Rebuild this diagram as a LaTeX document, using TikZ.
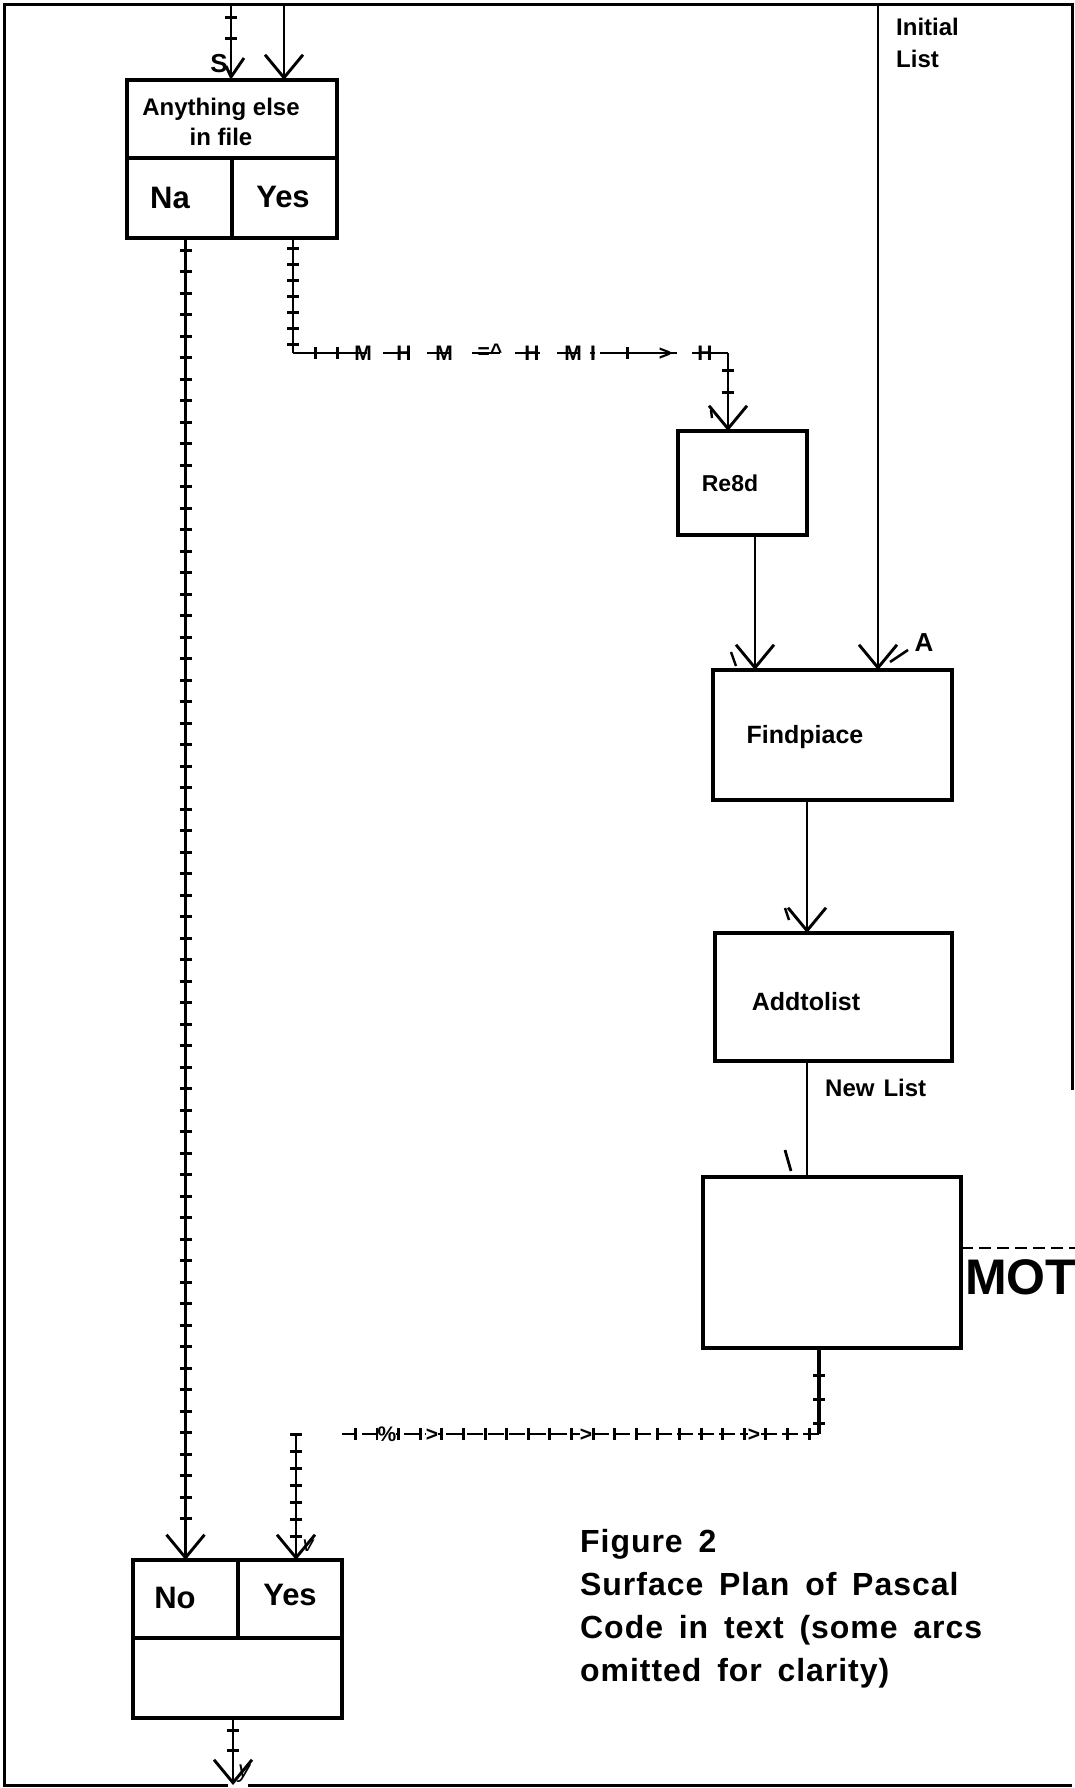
\documentclass[tikz,border=0pt]{standalone}
\usepackage{fontspec}
\setmainfont{Liberation Sans}
\newfontfamily\capfont[LetterSpace=3,WordSpace=1.6]{Liberation Sans}
\usetikzlibrary{arrows.meta,decorations.markings}
\begin{document}
\begin{tikzpicture}[x=1pt,y=-1pt,
  box/.style={draw,line width=3.4pt,rectangle,inner sep=0pt,outer sep=0pt},
  conn/.style={line width=2.9pt},
  vtip/.style={-{Straight Barb[length=23pt,width=38pt,line width=2.9pt]}},
  txt/.style={inner sep=0pt,font=\bfseries\fontsize{#1}{#1}\selectfont},
  txt/.default=24,
  tickbar/.style={-,line width=3pt},
  ticks/.style n args={3}{postaction={decorate},decoration={markings,
     mark=between positions #1 and #2 step #3 with {\draw[tickbar] (0pt,-6pt)--(0pt,6pt);}}},
  glyph/.style={inner sep=0pt,font=\bfseries\fontsize{21}{21}\selectfont}
]
\useasboundingbox (0,0) rectangle (1075,1788);
% frame
\draw[line width=3pt] (1072,1090) -- (1072,4) -- (4,4) -- (4,1785) -- (228,1785);
\draw[line width=3pt] (248,1785) -- (1072,1785);

% top decision box
\node[box,minimum width=210pt,minimum height=78pt] (q1top) at (232,119) {};
\node[box,minimum width=105pt,minimum height=80pt] (q1no) at (179.5,198) {};
\node[box,minimum width=105pt,minimum height=80pt] (q1yes) at (284.5,198) {};
\node[txt=24,align=center] (q1t) at (221,122) {Anything else\\[6pt]in file};
\node[txt=31] (q1nt) at (170,198) {Na};
\node[txt=31] (q1yt) at (283,197) {Yes};

% process boxes
\node[box,minimum width=129pt,minimum height=104pt] (re8d) at (742.5,483) {};
\node[txt=23] (re8dt) at (730,483) {Re8d};
\node[box,minimum width=239pt,minimum height=130pt] (findp) at (832.5,735) {};
\node[txt=25] (findpt) at (805,737) {Findpiace};
\node[box,minimum width=237pt,minimum height=128pt] (addto) at (833.5,997) {};
\node[txt=25] (addtot) at (806,1002) {Addtolist};
\node[box,minimum width=258pt,minimum height=171pt] (mot) at (832,1262.5) {};

% bottom decision box
\node[box,minimum width=105pt,minimum height=78pt] (bno) at (185.5,1599) {};
\node[box,minimum width=104pt,minimum height=78pt] (byes) at (290,1599) {};
\node[box,minimum width=209pt,minimum height=80pt] (bbody) at (237.5,1678) {};
\node[txt=31] (bnot) at (175,1598) {No};
\node[txt=31] (byest) at (290,1595) {Yes};

% labels
\node[txt=24,align=left,anchor=north west] (initl) at (896,18) {Initial\\[8pt]List};
\node[txt=24,anchor=west] (newl) at (825,1088) {New\hspace{9pt}List};
\node[txt=50,anchor=west] (motl) at (965,1277) {MOT};
\node[inner sep=0pt,font=\bfseries\fontsize{26}{26}\selectfont] (alab) at (924,643) {A};
\node[inner sep=0pt,font=\bfseries\fontsize{26}{26}\selectfont] (slab) at (219,64) {S};
\node[inner sep=0pt,font=\itshape\fontsize{22}{22}\selectfont] (vlab) at (308,1546) {v};
\node[inner sep=0pt,font=\itshape\fontsize{24}{24}\selectfont] (ylab) at (244,1774) {y};
\node[inner sep=0pt,anchor=north west,align=left,
      font=\capfont\bfseries\fontsize{32}{43}\selectfont] (cap) at (580,1529)
  {Figure 2\\
   Surface Plan of Pascal\\
   Code in text (some arcs\\
   omitted for clarity)};

% connector coordinates
\coordinate (tlx) at (231,4);
\coordinate (trx) at (284,4);
\coordinate (ilx) at (878,4);
\coordinate (ycorner) at (293,353);
\coordinate (rin) at (728,353);
\coordinate (rfx) at (755,600);
\coordinate (fax) at (807,860);
\coordinate (mc) at (819,1434);
\coordinate (mend) at (342,1434);
\coordinate (yv) at (296,1434);
\coordinate (ex) at (233,1785);
\coordinate (mdash) at (1075,1248);

% incoming at top
\draw[conn,ticks={13pt}{40pt}{21pt}] (tlx) -- (tlx |- q1top.north);
\draw[conn] (226,66) -- (231,77) -- (244,58);
\draw[conn,vtip] (trx) -- (trx |- q1top.north);
\draw[conn,vtip] (ilx) -- (ilx |- findp.north);

% No branch (long ticked line)
\draw[conn,vtip,ticks={12pt}{-28pt}{21.5pt}] (bno.north |- q1no.south) -- (bno.north);

% Yes branch to Re8d
\draw[conn,ticks={10pt}{-8pt}{16pt}] (ycorner |- q1yes.south) -- (ycorner);
\draw[conn,dash pattern=on 74pt off 16pt on 27pt off 17pt on 23pt off 22pt on 28pt off 15pt on 25pt off 17pt on 23pt off 10pt on 5pt off 5pt on 77pt off 15pt on 40pt,
  postaction={decorate},decoration={markings,
   mark=at position 22pt with {\draw[tickbar] (0pt,-6pt)--(0pt,6pt);},
   mark=at position 44pt with {\draw[tickbar] (0pt,-6pt)--(0pt,6pt);},
   mark=at position 334pt with {\draw[tickbar] (0pt,-6pt)--(0pt,6pt);}}]
  (ycorner) -- (rin);
\draw[conn,vtip,ticks={17pt}{40pt}{22pt}] (rin) -- (rin |- re8d.north);
\node[glyph] (g1) at (363,353) {M};
\node[glyph] (g2) at (404,353) {H};
\node[glyph] (g3) at (444,353) {M};
\node[glyph] (g4) at (490,351) {=\textasciicircum};
\node[glyph] (g5) at (532,353) {H};
\node[glyph] (g6) at (573,353) {M};
\node[glyph] (g7) at (593,353) {I};
\node[glyph] (g8) at (665,354) {>};
\node[glyph] (g9) at (705,353) {H};

% main chain
\draw[conn,vtip] (rfx |- re8d.south) -- (rfx |- findp.north);
\draw[conn,vtip] (fax |- findp.south) -- (fax |- addto.north);
\draw[conn] (fax |- addto.south) -- (fax |- mot.north);

% stray strokes near arrowheads
\draw[line width=2.4pt] (711,410) -- (712,418);
\draw[line width=2.4pt] (731,652) -- (736,666);
\draw[line width=2.4pt] (785,908) -- (789,920);
\draw[line width=2.8pt] (785,1150) -- (791,1171);
\draw[line width=2.6pt] (908,650) -- (890,662);

% MOT dashed line
\draw[line width=1.8pt,dash pattern=on 12pt off 6pt] (mdash -| mot.east) -- (mdash);

% MOT to bottom Yes
\draw[conn,line width=3.2pt,ticks={27pt}{80pt}{24pt}] (mc |- mot.south) -- (mc);
\draw[conn,dash pattern=on 16pt off 5pt,ticks={10pt}{-4pt}{21.6pt}] (mc) -- (mend);
\node[glyph,fill=white] (h1) at (387,1434) {\%};
\node[glyph,fill=white] (h2) at (432,1435) {>};
\node[glyph,fill=white] (h3) at (586,1435) {>};
\node[glyph,fill=white] (h4) at (754,1435) {>};
\draw[conn,vtip,ticks={0pt}{-24pt}{17pt}] (yv) -- (yv |- byes.north);

% exit
\draw[conn,vtip,ticks={12pt}{35pt}{20pt}] (ex |- bbody.south) -- (ex);
\end{tikzpicture}
\end{document}
